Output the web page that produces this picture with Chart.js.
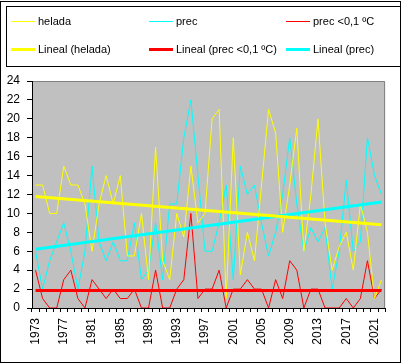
<!DOCTYPE html>
<html>
<head>
<meta charset="utf-8">
<script src="https://cdn.jsdelivr.net/npm/chart.js@4.4.0/dist/chart.umd.min.js"></script>
<style>
body { margin: 0; background: #fff; font-family: "Liberation Sans", Arial, sans-serif; }
#wrap { position: relative; width: 402px; height: 363px; overflow: hidden; }
#frame { position: absolute; left: 0; top: 1px; width: 399px; height: 360px; border: 1px solid #000; }
#legendBox { position: absolute; left: 6px; top: 6px; width: 393px; height: 59px; border: 1px solid #000; }
.item { position: absolute; font-size: 11px; line-height: 13px; white-space: nowrap; color: #000; }
.sw { position: absolute; left: 0; width: 24px; }
canvas { position: absolute; left: 0; top: 0; }
</style>
</head>
<body>
<div id="wrap">
    <canvas id="grafico" width="402" height="363"></canvas>
    <div id="frame"></div>
    <div id="legendBox"></div>
</div>
<script>
const years = ['1973','1974','1975','1976','1977','1978','1979','1980','1981','1982',
    '1983','1984','1985','1986','1987','1988','1989','1990','1991','1992',
    '1993','1994','1995','1996','1997','1998','1999','2000','2001','2002',
    '2003','2004','2005','2006','2007','2008','2009','2010','2011','2012',
    '2013','2014','2015','2016','2017','2018','2019','2020','2021','2022'];
const tickLabels = ['1973','1977','1981','1985','1989','1993','1997','2001','2005','2009','2013','2017','2021'];

const helada = [13, 13, 10, 10, 15, 13, 13, 11, 6, 11,
    14, 11, 14, 5.5, 5.5, 10, 3, 17, 5, 3,
    10, 7.5, 15, 9, 10, 20, 21, 1, 18, 3.5,
    8, 5, 13, 21, 18.5, 8, 13, 19, 6, 12,
    20, 9, 4, 6.5, 8, 4, 11, 8, 1, 3];
const prec = [6, 2, 5, 7, 9, 6, 2, 6, 15, 7,
    5, 7, 5, 5, 9, 3, 4, 9, 3, 11,
    11, 18, 22, 14, 6, 6, 9, 13, 3, 15,
    12, 13, 9, 5.5, 8, 12, 18, 11, 6, 8.5,
    7, 8.5, 2, 6, 13.5, 6, 7, 18, 14, 12];
const precFrio = [4, 1, 0, 0, 3, 4, 1, 0, 3, 2,
    1, 2, 1, 1, 2, 0, 0, 4, 0, 0,
    2, 3, 10, 1, 2, 2, 4, 0, 2, 2,
    3, 2, 2, 0, 3, 1, 5, 4, 0, 2,
    2, 0, 0, 0, 1, 0, 1, 5, 1, 2];

// extremos de las líneas de tendencia (primer y último año)
const heladaTrend = [11.8, 8.8];
const precTrend = [6.2, 11.2];
const precFrioTrend = [1.85, 1.85];

const yTicks = [0, 2, 4, 6, 8, 10, 12, 14, 16, 18, 20, 22, 24];

function extremos(par) {
    const d = years.map(() => null);
    d[0] = par[0];
    d[d.length - 1] = par[1];
    return d;
}

const leyenda = [
    { label: 'helada', color: '#ffff00', w: 1, x: 11, y: 15 },
    { label: 'prec', color: '#00ffff', w: 1, x: 149, y: 15 },
    { label: 'prec <0,1 ºC', color: '#ff0000', w: 1, x: 286, y: 15 },
    { label: 'Lineal (helada)', color: '#ffff00', w: 3, x: 11, y: 43 },
    { label: 'Lineal (prec <0,1 ºC)', color: '#ff0000', w: 3, x: 149, y: 43 },
    { label: 'Lineal (prec)', color: '#00ffff', w: 3, x: 286, y: 43 }
];
const wrap = document.getElementById('wrap');
leyenda.forEach(function (l) {
    const d = document.createElement('div');
    d.className = 'item';
    d.style.left = l.x + 'px';
    d.style.top = l.y + 'px';
    const top = l.w === 1 ? 6 : 5;
    d.innerHTML = '<span class="sw" style="top:' + top + 'px;border-top:' + l.w + 'px solid ' + l.color + '"></span>' +
        '<span style="margin-left:27px">' + l.label + '</span>';
    wrap.appendChild(d);
});

const fondo = {
    id: 'fondo',
    beforeDraw(chart) {
        const { ctx, chartArea: a } = chart;
        ctx.save();
        ctx.fillStyle = '#c0c0c0';
        ctx.fillRect(a.left, a.top, a.right - a.left, a.bottom - a.top);
        ctx.strokeStyle = '#808080';
        ctx.lineWidth = 1;
        ctx.beginPath();
        ctx.moveTo(a.left, a.top + 0.5);
        ctx.lineTo(a.right - 0.5, a.top + 0.5);
        ctx.lineTo(a.right - 0.5, a.bottom);
        ctx.stroke();
        ctx.restore();
    }
};

const fuente = { family: '"Liberation Sans", Arial, sans-serif', size: 12 };

new Chart(document.getElementById('grafico'), {
    type: 'line',
    data: {
        labels: years,
        datasets: [
            { data: extremos(heladaTrend), borderColor: '#ffff00', borderWidth: 3, spanGaps: true },
            { data: extremos(precFrioTrend), borderColor: '#ff0000', borderWidth: 3, spanGaps: true },
            { data: extremos(precTrend), borderColor: '#00ffff', borderWidth: 3, spanGaps: true },
            { data: helada, borderColor: '#ffff00', borderWidth: 1 },
            { data: prec, borderColor: '#00ffff', borderWidth: 1 },
            { data: precFrio, borderColor: '#ff0000', borderWidth: 1 }
        ]
    },
    options: {
        responsive: false,
        animation: false,
        layout: { padding: { top: 81, right: 5, left: 0, bottom: 0 } },
        elements: { point: { radius: 0 }, line: { tension: 0 } },
        plugins: { legend: { display: false }, tooltip: { enabled: false } },
        scales: {
            x: {
                offset: true,
                grid: { drawOnChartArea: false, drawTicks: true, tickLength: 4, offset: true, color: '#000' },
                border: { color: '#000' },
                ticks: {
                    autoSkip: false, maxRotation: 90, minRotation: 90, padding: 6, color: '#000', font: fuente,
                    callback: function (v, i) { return tickLabels.includes(years[i]) ? years[i] : ''; }
                },
                afterFit: function (s) { s.height = 55; }
            },
            y: {
                min: 0,
                max: 24,
                afterBuildTicks: function (s) { s.ticks = yTicks.map(v => ({ value: v })); },
                grid: { drawOnChartArea: false, drawTicks: true, tickLength: 5, color: '#000' },
                border: { color: '#000' },
                ticks: { padding: 7, color: '#000', font: fuente },
                afterFit: function (s) { s.width = 32; }
            }
        }
    },
    plugins: [fondo]
});
</script>
</body>
</html>
